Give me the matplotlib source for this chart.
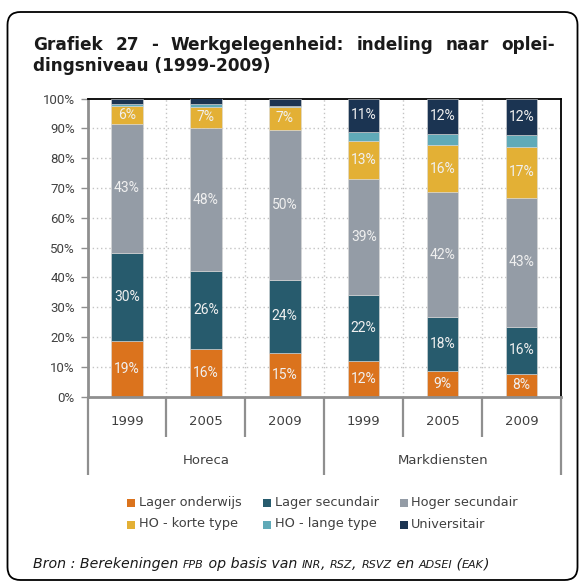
import matplotlib
matplotlib.use("Agg")
import matplotlib.pyplot as plt
from matplotlib.patches import FancyBboxPatch, Rectangle
from matplotlib.transforms import blended_transform_factory

# ---------------- data ----------------
years = ["1999", "2005", "2009", "1999", "2005", "2009"]
groups = ["Horeca", "Markdiensten"]
series_names = ["Lager onderwijs", "Lager secundair", "Hoger secundair",
                "HO - korte type", "HO - lange type", "Universitair"]
lager_onderwijs = [18.6, 16.0, 14.8, 12.0, 8.6, 7.6]
lager_secundair = [29.6, 26.0, 24.4, 22.0, 18.0, 15.8]
hoger_secundair = [43.4, 48.2, 50.4, 38.9, 42.1, 43.4]
ho_korte = [6.0, 6.9, 7.4, 12.8, 15.6, 16.8]
ho_lange = [0.6, 1.2, 0.6, 3.2, 3.8, 4.0]
universitair = [1.8, 1.7, 2.4, 11.1, 11.9, 12.4]
yticks = [0, 10, 20, 30, 40, 50, 60, 70, 80, 90, 100]
title_line1 = "Grafiek 27 - Werkgelegenheid: indeling naar oplei-"
title_line2 = "dingsniveau (1999-2009)"
source_pieces = [("Bron : Berekeningen ", False), ("FPB", True), (" op basis van ", False),
                 ("INR", True), (", ", False), ("RSZ", True), (", ", False), ("RSVZ", True),
                 (" en ", False), ("ADSEI", True), (" (", False), ("EAK", True), (")", False)]

series = [lager_onderwijs, lager_secundair, hoger_secundair, ho_korte, ho_lange, universitair]
colors = ["#DB731D", "#275B6D", "#949CA6", "#E3B035", "#60AAB8", "#1B3452"]

W, H = 586, 583
fig = plt.figure(figsize=(W / 100, H / 100), dpi=100)

def fx(px):
    return px / W

def fy(py):
    return 1 - py / H

# border
border = FancyBboxPatch((fx(7.5), fy(580)), fx(577.5) - fx(7.5), fy(12) - fy(580),
                        boxstyle="round,pad=0,rounding_size=0.022",
                        transform=fig.transFigure, facecolor="none",
                        edgecolor="black", linewidth=1.3)
fig.patches.append(border)

left, right, top, bottom = 87.5, 561, 98.5, 396.7
ax = fig.add_axes([fx(left), fy(bottom), fx(right) - fx(left), fy(top) - fy(bottom)])
ax.set_facecolor("none")

x = list(range(len(years)))
base = [0.0] * len(years)
grey_axis = "#8f8f8f"
for vals, name, col in zip(series, series_names, colors):
    bars = ax.bar(x, vals, width=0.4, bottom=base, color=col, label=name,
                  edgecolor="#d9d9d9", linewidth=0.4, zorder=3)
    labels = [f"{v:.0f}%" if v >= 5 else "" for v in vals]
    ax.bar_label(bars, labels=labels, label_type="center", color="#f0f0f0",
                 fontsize=10, family="Roboto", zorder=4)
    base = [b + v for b, v in zip(base, vals)]

ax.set_xlim(-0.5, len(years) - 0.5)
ax.set_ylim(0, 100)
ax.set_yticks(yticks)
ax.set_yticklabels([f"{v}%" for v in yticks], family="Roboto", fontsize=9.5, color="#404040")
ax.set_xticks([])
ax.tick_params(axis="y", length=5, width=1, color=grey_axis, pad=4)

for yv in yticks[1:-1]:
    ax.axhline(yv, color="#c4c4c4", linestyle=(0, (1, 2)), linewidth=1, zorder=1)
for xv in [i + 0.5 for i in range(len(years) - 1)]:
    ax.axvline(xv, color="#c4c4c4", linestyle=(0, (1, 2)), linewidth=1, zorder=1)

ax.spines["top"].set_color("black")
ax.spines["top"].set_linewidth(1.3)
ax.spines["right"].set_color("black")
ax.spines["right"].set_linewidth(1.3)
ax.spines["left"].set_color(grey_axis)
ax.spines["left"].set_linewidth(2)
ax.spines["bottom"].set_color(grey_axis)
ax.spines["bottom"].set_linewidth(2)
ax.spines["bottom"].set_zorder(5)

# multi-level category axis
ph = bottom - top
trans = blended_transform_factory(ax.transData, ax.transAxes)
y_year_end = -(436.7 - bottom) / ph
y_group_end = -(475 - bottom) / ph
for i in range(len(years) + 1):
    xv = i - 0.5
    end = y_group_end if i % 3 == 0 else y_year_end
    ax.plot([xv, xv], [0, end], transform=trans, color=grey_axis, lw=1.6,
            clip_on=False, solid_capstyle="butt")
for i, yr in enumerate(years):
    ax.text(i, -(421.7 - bottom) / ph, yr, transform=trans, ha="center", va="center",
            fontsize=9.5, color="#404040", family="DejaVu Sans")
for g, name in enumerate(groups):
    ax.text(g * 3 + 1, -(461 - bottom) / ph, name, transform=trans, ha="center",
            va="center", fontsize=9.5, color="#404040", family="DejaVu Sans")

# legend (manual grid, row-major order)
marker_x = [126.7, 262.7, 400]
text_x = [139.3, 274.7, 411.3]
row_y = [502.7, 524]
for k, (name, col) in enumerate(zip(series_names, colors)):
    r, c = divmod(k, 3)
    fig.patches.append(Rectangle((fx(marker_x[c]), fy(row_y[r] + 4.5)), fx(8), 8 / H,
                                 transform=fig.transFigure, facecolor=col, edgecolor="none"))
    fig.text(fx(text_x[c]), fy(row_y[r]), name, ha="left", va="center", fontsize=9.3,
             color="#404040", family="DejaVu Sans")

# title (justified first line)
fig.canvas.draw()
renderer = fig.canvas.get_renderer()
tkw = dict(fontsize=12.2, fontweight="bold", family="DejaVu Sans", color="#1a1a1a")
words = title_line1.split(" ")
widths = []
for w in words:
    t = fig.text(0, 0, w, **tkw)
    widths.append(t.get_window_extent(renderer).width)
    t.remove()
x0, x1 = 33, 555
gap = (x1 - x0 - sum(widths)) / (len(words) - 1)
xc = x0
for w, wd in zip(words, widths):
    fig.text(fx(xc), fy(50), w, ha="left", va="baseline", **tkw)
    xc += wd + gap
fig.text(fx(x0), fy(71), title_line2, ha="left", va="baseline", **tkw)

# source line with small caps pieces
def piece_width(s, size):
    a = fig.text(0, 0, "x" + s + "x", fontsize=size, style="italic", family="DejaVu Sans")
    b = fig.text(0, 0, "xx", fontsize=size, style="italic", family="DejaVu Sans")
    w = a.get_window_extent(renderer).width - b.get_window_extent(renderer).width
    a.remove(); b.remove()
    return w

xc = 33
for s, small in source_pieces:
    size = 8.0 if small else 10.2
    fig.text(fx(xc), fy(568), s, ha="left", va="baseline", fontsize=size,
             style="italic", family="DejaVu Sans", color="#1a1a1a")
    xc += piece_width(s, size)

fig.savefig("out.png", dpi=100)
